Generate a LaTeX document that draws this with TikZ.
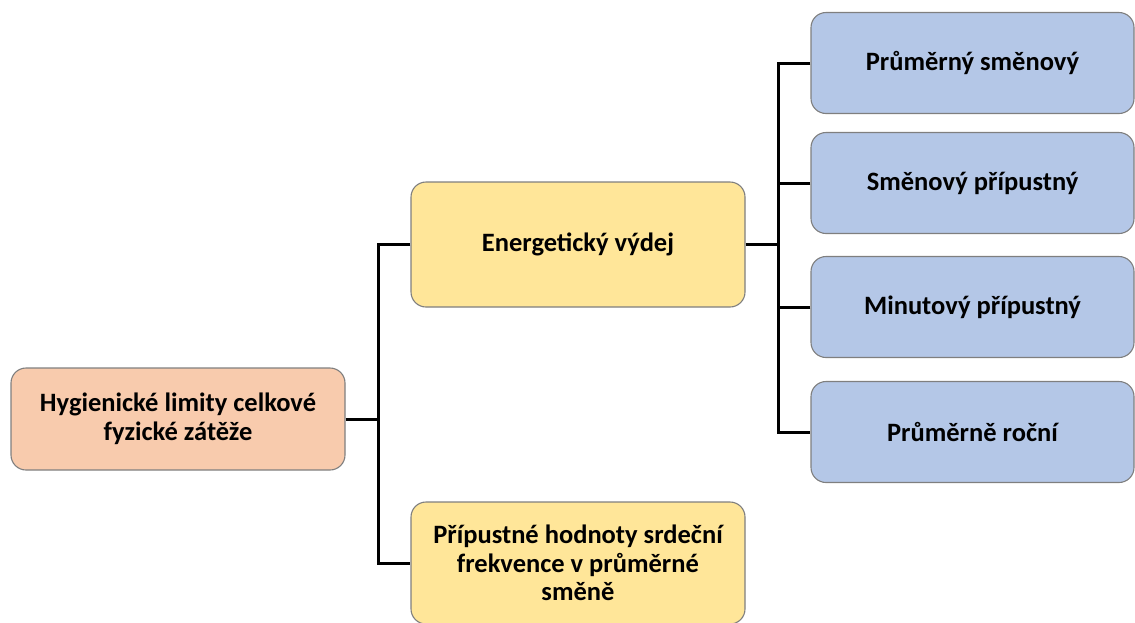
\documentclass[tikz,border=0pt]{standalone}
\usepackage{fontspec}
\setmainfont{Carlito}
\begin{document}
\definecolor{peach}{HTML}{F8CBAD}
\definecolor{sand}{HTML}{FFE699}
\definecolor{sky}{HTML}{B4C7E7}
\definecolor{rim}{HTML}{7F7F7F}
\begin{tikzpicture}[x=1pt,y=-1pt,
  box/.style={draw=rim, line width=1.1pt, rounded corners=15pt, align=center,
    font=\fontsize{26.5}{28.5}\selectfont\bfseries, inner sep=0pt},
  rootbox/.style={box, fill=peach, minimum width=334pt, minimum height=102pt},
  midbox/.style={box, fill=sand, minimum width=334pt},
  leafbox/.style={box, fill=sky, minimum width=323pt, minimum height=101pt},
  link/.style={line width=3pt, black}]
\useasboundingbox (0,0) rectangle (1135,622);
\node[rootbox] (root) at (178,419) {Hygienické limity celkové\\fyzické zátěže};
\node[midbox, minimum height=125pt] (energ) at (578,244.5) {Energetický výdej};
\node[midbox, minimum height=122pt] (prip) at (578,563) {Přípustné hodnoty srdeční\\frekvence v průměrné\\směně};
\node[leafbox] (b1) at (972.5,63) {Průměrný směnový};
\node[leafbox] (b2) at (972.5,183) {Směnový přípustný};
\node[leafbox] (b3) at (972.5,307) {Minutový přípustný};
\node[leafbox] (b4) at (972.5,432) {Průměrně roční};
\coordinate (j1) at (378,419);
\coordinate (j2) at (778,244.5);
\draw[link] (root.east) -- (j1);
\draw[link] (energ.west) -| (j1) |- (prip.west);
\draw[link] (energ.east) -- (j2);
\draw[link] (b1.west) -| (j2) |- (b4.west);
\draw[link] (b2.west) -| (j2);
\draw[link] (b3.west) -| (j2);
\end{tikzpicture}
\end{document}
